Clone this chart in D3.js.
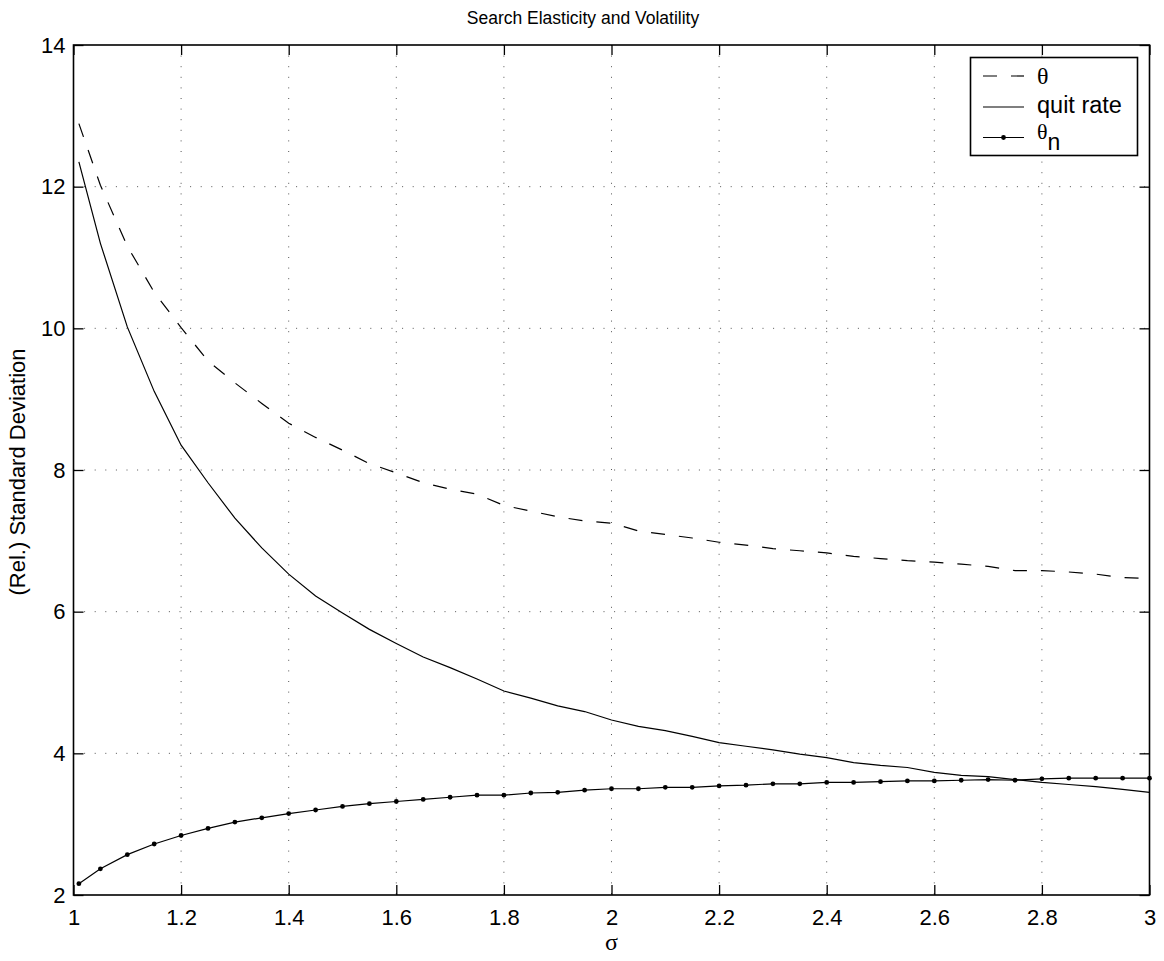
<!DOCTYPE html>
<html>
<head>
<meta charset="utf-8">
<script src="https://cdn.jsdelivr.net/npm/d3@7"></script>
<style>
  body { margin: 0; background: #fff; }
  text { font-family: "Liberation Sans", Arial, sans-serif; fill: #000; }
</style>
</head>
<body>
<script>
// sigma grid used in the simulation
const sigma = [1.01, 1.05, 1.10, 1.15, 1.20, 1.25, 1.30, 1.35, 1.40, 1.45,
               1.50, 1.55, 1.60, 1.65, 1.70, 1.75, 1.80, 1.85, 1.90, 1.95,
               2.00, 2.05, 2.10, 2.15, 2.20, 2.25, 2.30, 2.35, 2.40, 2.45,
               2.50, 2.55, 2.60, 2.65, 2.70, 2.75, 2.80, 2.85, 2.90, 2.95, 3.00];

const theta = [12.89, 12.02, 11.16, 10.51, 10.01, 9.54, 9.23, 8.94, 8.66, 8.46,
               8.28, 8.09, 7.96, 7.82, 7.73, 7.66, 7.50, 7.42, 7.34, 7.28,
               7.25, 7.14, 7.09, 7.04, 6.98, 6.94, 6.89, 6.86, 6.83, 6.78,
               6.75, 6.72, 6.70, 6.67, 6.64, 6.58, 6.58, 6.56, 6.53, 6.48, 6.47];

const quitRate = [12.35, 11.20, 10.02, 9.11, 8.35, 7.82, 7.32, 6.90, 6.53, 6.22,
                  5.98, 5.75, 5.55, 5.36, 5.21, 5.05, 4.88, 4.78, 4.67, 4.59,
                  4.47, 4.38, 4.32, 4.24, 4.15, 4.10, 4.05, 3.99, 3.94, 3.87,
                  3.83, 3.80, 3.73, 3.69, 3.67, 3.63, 3.59, 3.56, 3.53, 3.49, 3.45];

const thetaN = [2.16, 2.37, 2.57, 2.72, 2.84, 2.94, 3.03, 3.09, 3.15, 3.20,
                3.25, 3.29, 3.32, 3.35, 3.38, 3.41, 3.41, 3.44, 3.45, 3.48,
                3.50, 3.50, 3.52, 3.52, 3.54, 3.55, 3.57, 3.57, 3.59, 3.59,
                3.60, 3.61, 3.61, 3.62, 3.63, 3.62, 3.64, 3.65, 3.65, 3.65, 3.65];

const xTicks = [1, 1.2, 1.4, 1.6, 1.8, 2, 2.2, 2.4, 2.6, 2.8, 3];
const yTicks = [2, 4, 6, 8, 10, 12, 14];

const w = 1164;
const h = 961;
const plotL = 73.5, plotR = 1149.5, plotT = 45, plotB = 895;

const svg = d3.select("body")
              .append("svg")
              .attr("width", w)
              .attr("height", h)

const x = d3.scaleLinear().domain([1, 3]).range([plotL, plotR]);
const y = d3.scaleLinear().domain([2, 14]).range([plotB, plotT]);

// dotted grid
svg.append("g")
   .selectAll("line")
   .data(xTicks.slice(1, -1))
   .enter()
   .append("line")
   .attr("x1", d => x(d)).attr("x2", d => x(d))
   .attr("y1", plotT).attr("y2", plotB)
   .attr("stroke", "#555")
   .attr("stroke-width", 1)
   .attr("stroke-dasharray", "1,9.6")

svg.append("g")
   .selectAll("line")
   .data(yTicks.slice(1, -1))
   .enter()
   .append("line")
   .attr("x1", plotL).attr("x2", plotR)
   .attr("y1", d => y(d)).attr("y2", d => y(d))
   .attr("stroke", "#555")
   .attr("stroke-width", 1)
   .attr("stroke-dasharray", "1,9.6")

// axes with inward ticks on all four sides
const tickLen = 10;
svg.append("g")
   .attr("transform", "translate(0," + plotB + ")")
   .call(d3.axisBottom(x).tickValues(xTicks).tickSizeInner(-tickLen).tickSizeOuter(0).tickPadding(14).tickFormat(d3.format("~g")))
   .call(g => g.select(".domain").remove())
   .call(g => g.selectAll("text").style("font-size", "22px").attr("dy", "0.71em"))
svg.append("g")
   .attr("transform", "translate(0," + plotT + ")")
   .call(d3.axisTop(x).tickValues(xTicks).tickSizeInner(-tickLen).tickSizeOuter(0).tickFormat(""))
   .call(g => g.select(".domain").remove())
svg.append("g")
   .attr("transform", "translate(" + plotL + ",0)")
   .call(d3.axisLeft(y).tickValues(yTicks).tickSizeInner(-tickLen).tickSizeOuter(0).tickPadding(8))
   .call(g => g.select(".domain").remove())
   .call(g => g.selectAll("text").style("font-size", "22px"))
svg.append("g")
   .attr("transform", "translate(" + plotR + ",0)")
   .call(d3.axisRight(y).tickValues(yTicks).tickSizeInner(-tickLen).tickSizeOuter(0).tickFormat(""))
   .call(g => g.select(".domain").remove())

svg.selectAll(".tick line").attr("stroke", "#000").attr("stroke-width", 1.3)

svg.append("rect")
   .attr("x", plotL).attr("y", plotT)
   .attr("width", plotR - plotL).attr("height", plotB - plotT)
   .attr("fill", "none")
   .attr("stroke", "#000")
   .attr("stroke-width", 1.6)

// series
const line = d3.line().x((d, i) => x(sigma[i])).y(d => y(d));

svg.append("path")
   .datum(theta)
   .attr("d", line)
   .attr("fill", "none")
   .attr("stroke", "#000")
   .attr("stroke-width", 1.2)
   .attr("stroke-dasharray", "14,14")

svg.append("path")
   .datum(quitRate)
   .attr("d", line)
   .attr("fill", "none")
   .attr("stroke", "#000")
   .attr("stroke-width", 1.2)

svg.append("path")
   .datum(thetaN)
   .attr("d", line)
   .attr("fill", "none")
   .attr("stroke", "#000")
   .attr("stroke-width", 1.2)

svg.append("g")
   .selectAll("circle")
   .data(thetaN)
   .enter()
   .append("circle")
   .attr("cx", (d, i) => x(sigma[i]))
   .attr("cy", d => y(d))
   .attr("r", 2.4)
   .attr("fill", "#000")

// titles
svg.append("text")
   .attr("x", 583)
   .attr("y", 24)
   .attr("text-anchor", "middle")
   .style("font-size", "17.5px")
   .text("Search Elasticity and Volatility")

svg.append("text")
   .attr("transform", "translate(25,472) rotate(-90)")
   .attr("text-anchor", "middle")
   .style("font-size", "22px")
   .text("(Rel.) Standard Deviation")

svg.append("text")
   .attr("x", (plotL + plotR) / 2)
   .attr("y", 950)
   .attr("text-anchor", "middle")
   .style("font-family", "'Liberation Serif', 'Times New Roman', serif")
   .style("font-size", "24px")
   .text("σ")

// legend
const legend = svg.append("g")
legend.append("rect")
      .attr("x", 970.5).attr("y", 57.5)
      .attr("width", 167).attr("height", 98)
      .attr("fill", "#fff")
      .attr("stroke", "#000")
      .attr("stroke-width", 1.6)

const lx0 = 983, lx1 = 1024, tx = 1037;
legend.append("line")
      .attr("x1", lx0).attr("x2", lx1).attr("y1", 76).attr("y2", 76)
      .attr("stroke", "#000").attr("stroke-width", 1.2).attr("stroke-dasharray", "14,14")
legend.append("line")
      .attr("x1", lx0).attr("x2", lx1).attr("y1", 107).attr("y2", 107)
      .attr("stroke", "#000").attr("stroke-width", 1.2)
legend.append("line")
      .attr("x1", lx0).attr("x2", lx1).attr("y1", 137.5).attr("y2", 137.5)
      .attr("stroke", "#000").attr("stroke-width", 1.2)
legend.append("circle")
      .attr("cx", (lx0 + lx1) / 2).attr("cy", 137.5).attr("r", 2.4).attr("fill", "#000")

legend.append("text")
      .attr("x", tx).attr("y", 84)
      .style("font-family", "'Liberation Serif', 'Times New Roman', serif")
      .style("font-size", "24px")
      .text("θ")
legend.append("text")
      .attr("x", tx).attr("y", 113)
      .style("font-size", "23.5px")
      .text("quit rate")
const tn = legend.append("text")
      .attr("x", tx).attr("y", 139)
      .style("font-size", "23px")
tn.append("tspan")
  .style("font-family", "'Liberation Serif', 'Times New Roman', serif")
  .style("font-size", "22px")
  .text("θ")
tn.append("tspan")
  .attr("dy", 11)
  .text("n")
</script>
</body>
</html>
